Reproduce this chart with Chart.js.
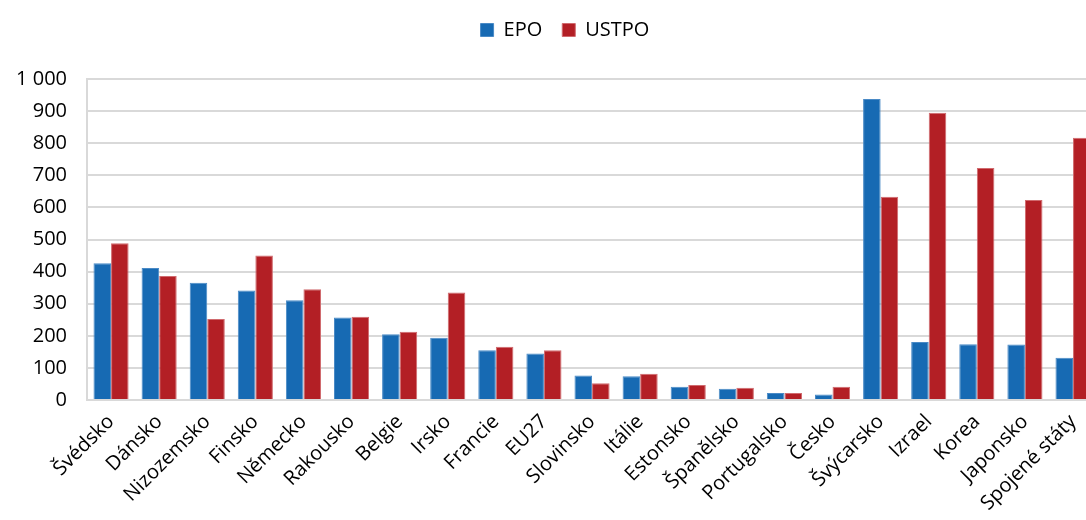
<!DOCTYPE html>
<html>
<head>
<meta charset="utf-8">
<script src="https://cdn.jsdelivr.net/npm/chart.js@4"></script>
<style>
  html, body { margin: 0; padding: 0; background: #fff; overflow: hidden; }
  #wrap { position: relative; width: 1100px; height: 520px; }
</style>
</head>
<body>
<div id="wrap"><canvas id="chart"></canvas></div>
<script>
const categories = ['Švédsko', 'Dánsko', 'Nizozemsko', 'Finsko', 'Německo', 'Rakousko', 'Belgie',
    'Irsko', 'Francie', 'EU27', 'Slovinsko', 'Itálie', 'Estonsko', 'Španělsko', 'Portugalsko',
    'Česko', 'Švýcarsko', 'Izrael', 'Korea', 'Japonsko', 'Spojené státy'];
const epo = [426, 411, 365, 341, 311, 257, 205, 194, 155, 145, 76, 74, 41, 35, 22, 17, 938, 181, 174, 173, 132];
const ustpo = [488, 386, 252, 450, 345, 259, 213, 335, 166, 155, 52, 82, 47, 38, 22, 41, 633, 895, 723, 623, 817];

Chart.defaults.font.family = "'Open Sans', 'Noto Sans', sans-serif";
Chart.defaults.font.size = 20;
Chart.defaults.color = '#000';
Chart.defaults.animation = false;

const fmt = v => String(v).replace(/\B(?=(\d{3})+(?!\d))/g, ' ');

// extra room under the legend, and nudge it right like the original
const legendGap = {
    id: 'legendGap',
    beforeInit(chart) {
        const fit = chart.legend.fit;
        chart.legend.fit = function () {
            fit.bind(chart.legend)();
            this.height += 29;
        };
    },
    afterLayout(chart) {
        chart.legend.left += 15;
        chart.legend.right += 15;
    }
};

new Chart(document.getElementById('chart'), {
    type: 'bar',
    data: {
        labels: categories,
        datasets: [
            { label: 'EPO', data: epo, backgroundColor: '#176ab3', borderColor: '#4a8ac6', borderWidth: 1 },
            { label: 'USTPO', data: ustpo, backgroundColor: '#b31f25', borderColor: '#d06a6e', borderWidth: 1 }
        ]
    },
    options: {
        responsive: true,
        maintainAspectRatio: false,
        layout: { padding: { top: 0, right: 0, left: 0, bottom: 0 } },
        datasets: { bar: { categoryPercentage: 0.73, barPercentage: 1 } },
        plugins: {
            legend: {
                position: 'top',
                labels: { boxWidth: 13, boxHeight: 13, padding: 20, font: { size: 20 } }
            },
            tooltip: { enabled: false }
        },
        scales: {
            x: {
                grid: { display: false, drawTicks: false },
                border: { color: '#d9d9d9', width: 2 },
                ticks: { maxRotation: 45, minRotation: 45, autoSkip: false, padding: 10, font: { size: 20 } },
                afterFit: s => { s.height = 120; }
            },
            y: {
                min: 0,
                max: 1000,
                grid: { color: '#d9d9d9', lineWidth: 2, drawTicks: false },
                border: { color: '#d9d9d9', width: 2 },
                ticks: { stepSize: 100, padding: 20, callback: v => fmt(v) },
                afterFit: s => { s.width = 87; }
            }
        }
    },
    plugins: [legendGap]
});
</script>
</body>
</html>
